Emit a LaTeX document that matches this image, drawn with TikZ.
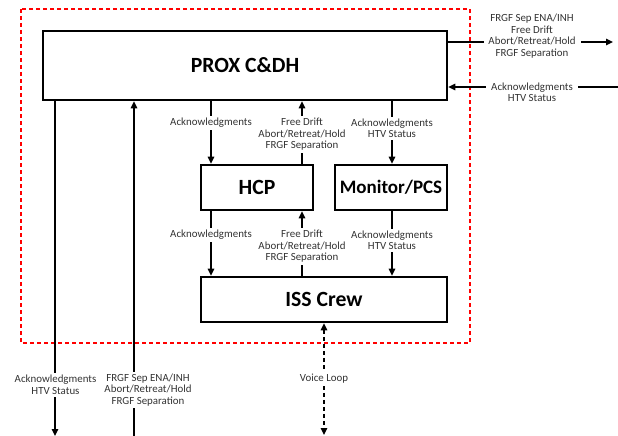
\documentclass[tikz,border=0pt]{standalone}
\usepackage{fontspec}
\setmainfont{Carlito}
\usetikzlibrary{arrows.meta,calc}
\begin{document}
\begin{tikzpicture}[x=1pt,y=-1pt,
  box/.style={draw, line width=2.6pt, inner sep=0pt, font=\fontsize{21.7}{24}\selectfont\bfseries},
  lbl/.style={fill=white, align=center, inner sep=2pt, font=\fontsize{10.9}{11.5}\selectfont, text=black!80},
  tip/.tip={Triangle[length=7pt,width=6.5pt]},
  arr/.style={line width=1.4pt, -tip},
  dashline/.style={line width=1.4pt, dash pattern=on 4pt off 3pt},
]
\useasboundingbox (0,0) rectangle (618,436);
\draw[red, line width=1.3pt, dash pattern=on 4pt off 3pt] (21,9) rectangle (470,343);

\node[box, minimum width=404pt, minimum height=69pt] (prox) at (245,65.5) {PROX C\&DH};
\node[box, minimum width=112pt, minimum height=45pt] (hcp) at (257,187.5) {HCP};
\node[box, minimum width=112pt, minimum height=45pt, font=\fontsize{19}{22}\selectfont\bfseries] (mon) at (391,187.5) {Monitor/PCS};
\node[box, minimum width=246pt, minimum height=45pt] (iss) at (324,299.5) {ISS Crew};

% helper x positions / free ends
\coordinate (xa) at (211,0);
\coordinate (xb) at (302,0);
\coordinate (xc) at (392,0);
\coordinate (bl) at (55,436);
\coordinate (bm) at (134,436);
\coordinate (bv) at (324,435);
\coordinate (ro) at (613,42);
\coordinate (ri) at (618,87);

% PROX -> HCP / Monitor
\draw[arr] (prox.south -| xa) -- (hcp.north -| xa);
\draw[arr] (hcp.north -| xb) -- (prox.south -| xb);
\draw[arr] (prox.south -| xc) -- (mon.north -| xc);
% HCP/Monitor -> ISS
\draw[arr] (hcp.south -| xa) -- (iss.north -| xa);
\draw[arr] (iss.north -| xb) -- (hcp.south -| xb);
\draw[arr] (mon.south -| xc) -- (iss.north -| xc);
% bottom
\draw[arr] (prox.south -| bl) -- (bl);
\draw[arr] (bm) -- (prox.south -| bm);
\draw[dashline, tip-tip] (iss.south -| bv) -- (bv);
% right
\draw[arr] (prox.east |- ro) -- (ro);
\draw[arr] (ri) -- (prox.east |- ri);

% labels
\node[lbl] (l1) at (211,123) {Acknowledgments};
\node[lbl] (l2) at (302,134.5) {Free Drift\\Abort/Retreat/Hold\\FRGF Separation};
\node[lbl] (l3) at (392,128.5) {Acknowledgments\\HTV Status};
\node[lbl] (l4) at (211,235) {Acknowledgments};
\node[lbl] (l5) at (302,246.5) {Free Drift\\Abort/Retreat/Hold\\FRGF Separation};
\node[lbl] (l6) at (392,240.5) {Acknowledgments\\HTV Status};
\node[lbl] (l7) at (55.5,385) {Acknowledgments\\HTV Status};
\node[lbl] (l8) at (148,390) {FRGF Sep ENA/INH\\Abort/Retreat/Hold\\FRGF Separation};
\node[lbl] (l9) at (324,379) {Voice Loop};
\node[lbl, inner xsep=5pt] (l10) at (532,36) {FRGF Sep ENA/INH\\Free Drift\\Abort/Retreat/Hold\\FRGF Separation};
\node[lbl, inner xsep=5pt] (l11) at (532,92.5) {Acknowledgments\\HTV Status};
\end{tikzpicture}
\end{document}
